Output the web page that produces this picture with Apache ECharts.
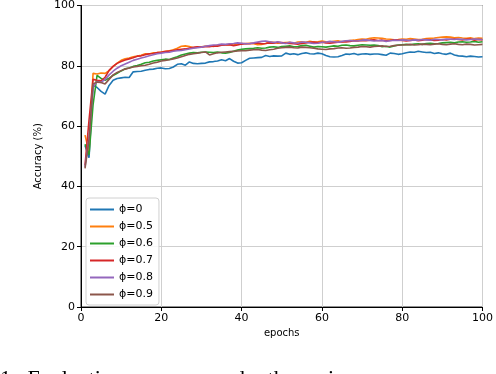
<!DOCTYPE html>
<html>
<head>
<meta charset="utf-8">
<script src="https://cdn.jsdelivr.net/npm/echarts@6/dist/echarts.min.js"></script>
<style>
  html, body { margin: 0; padding: 0; background: #fff; }
  #chart { width: 496px; height: 374px; }
</style>
</head>
<body>
<div id="chart"></div>
<script>
// accuracy per epoch (epochs 1..100)
var seriesNames = ['ϕ=0', 'ϕ=0.5', 'ϕ=0.6', 'ϕ=0.7', 'ϕ=0.8', 'ϕ=0.9'];
var colors = ['#1f77b4', '#ff7f0e', '#2ca02c', '#d62728', '#9467bd', '#8c564b'];

var phi0 = [
  53.6, 49.5, 73.5, 72.8, 71.5, 70.6, 73.5, 75.2, 75.8, 76.0,
  76.2, 76.1, 78.0, 78.1, 78.2, 78.5, 78.8, 78.9, 79.2, 79.3,
  79.0, 79.1, 79.6, 80.5, 80.7, 80.2, 81.3, 80.8, 80.7, 80.8,
  80.9, 81.3, 81.4, 81.6, 82.0, 81.7, 82.4, 81.5, 80.9, 81.0,
  81.8, 82.5, 82.6, 82.7, 82.8, 83.4, 83.1, 83.3, 83.2, 83.3,
  84.2, 83.8, 84.0, 83.7, 84.1, 84.3, 84.0, 83.9, 84.2, 84.0,
  83.4, 83.0, 82.9, 83.0, 83.4, 83.9, 83.8, 84.1, 83.7, 83.9,
  84.0, 83.8, 83.9, 83.9, 83.7, 83.5, 84.2, 84.1, 83.8, 84.0,
  84.3, 84.6, 84.5, 84.8, 84.6, 84.4, 84.5, 84.1, 84.3, 84.0,
  83.8, 84.2, 83.6, 83.3, 83.2, 83.0, 83.2, 83.1, 82.9, 83.0
];
var phi05 = [
  57.0, 51.5, 77.5, 77.3, 77.6, 77.5, 78.4, 79.8, 80.9, 81.8,
  82.3, 82.6, 83.0, 83.2, 83.5, 84.0, 83.9, 84.3, 84.4, 84.6,
  84.8, 85.0, 85.3, 85.8, 86.5, 86.6, 86.4, 86.0, 86.2, 86.3,
  86.5, 86.6, 86.4, 86.8, 86.9, 87.0, 87.1, 86.9, 87.2, 87.4,
  87.3, 87.5, 87.3, 87.0, 87.1, 87.4, 87.9, 87.8, 87.5, 87.6,
  87.7, 87.8, 87.5, 87.9, 88.0, 87.8, 88.1, 87.9, 88.0, 88.2,
  88.0, 87.9, 88.1, 88.3, 88.0, 88.2, 88.4, 88.5, 88.7, 88.9,
  88.8, 89.1, 89.3, 89.2, 89.1, 88.9, 88.8, 88.6, 88.7, 88.9,
  88.8, 89.0, 88.9, 88.7, 88.8, 89.0, 89.1, 89.2, 89.4, 89.5,
  89.6, 89.5, 89.3, 89.4, 89.2, 89.1, 89.3, 89.0, 89.2, 89.1
];
var phi06 = [
  54.0, 50.5, 67.0, 76.8, 75.8, 75.2, 75.9, 76.8, 77.5, 78.3,
  79.0, 79.3, 79.8, 80.1, 80.5, 81.0, 81.2, 81.6, 81.8, 82.0,
  82.2, 82.1, 82.6, 83.0, 83.6, 83.9, 84.2, 84.4, 84.3, 84.5,
  84.6, 84.5, 84.4, 84.6, 84.3, 84.2, 84.4, 84.8, 85.2, 85.5,
  85.6, 85.7, 85.8, 86.0, 85.8, 85.9, 86.2, 86.3, 86.1, 86.4,
  86.5, 86.6, 86.3, 86.4, 86.7, 86.8, 86.5, 86.2, 86.4, 86.3,
  86.2, 86.4, 86.6, 86.5, 86.8, 86.9, 86.7, 86.6, 86.8, 87.0,
  86.9, 86.8, 86.9, 86.7, 86.3, 86.5, 86.2, 86.6, 86.9, 87.0,
  87.1, 87.0, 87.2, 87.3, 87.1, 87.4, 87.5, 87.3, 87.4, 87.6,
  87.7, 87.8, 87.6, 87.9, 88.0, 87.8, 87.9, 88.1, 87.8, 88.0
];
var phi07 = [
  47.0, 62.0, 75.5, 75.2, 75.0, 76.2, 78.5, 79.8, 80.8, 81.4,
  81.9, 82.3, 82.7, 83.2, 83.3, 83.7, 84.0, 84.1, 84.4, 84.5,
  84.7, 84.9, 85.1, 85.3, 85.5, 85.6, 85.9, 86.1, 86.3, 86.2,
  86.4, 86.3, 86.6, 86.5, 86.8, 86.9, 87.0, 86.7, 86.9, 87.2,
  87.4, 87.3, 87.5, 87.6, 87.3, 87.4, 87.6, 87.5, 87.8, 87.7,
  87.5, 87.4, 87.3, 87.2, 87.4, 87.6, 87.8, 87.9, 87.7, 87.8,
  87.6, 87.5, 87.7, 87.8, 88.0, 87.9, 88.1, 88.3, 88.2, 88.4,
  88.3, 88.5, 88.6, 88.4, 88.5, 88.3, 88.4, 88.6, 88.5, 88.4,
  88.2, 88.4, 88.6, 88.3, 88.5, 88.7, 88.6, 88.4, 88.5, 88.7,
  88.6, 88.8, 88.9, 88.7, 88.6, 88.8, 88.9, 88.5, 88.7, 88.6
];
var phi08 = [
  46.5, 56.0, 73.0, 74.8, 74.5, 75.5, 77.0, 78.2, 79.2, 80.0,
  80.6, 81.2, 81.8, 82.2, 82.6, 82.9, 83.3, 83.7, 84.0, 84.2,
  84.4, 84.5, 84.8, 85.0, 85.1, 85.3, 85.6, 85.8, 86.0, 86.2,
  86.5, 86.7, 86.9, 87.0, 87.2, 87.1, 87.3, 87.4, 87.6, 87.5,
  87.3, 87.4, 87.6, 87.9, 88.1, 88.2, 88.0, 87.7, 88.0, 87.6,
  87.4, 87.8, 87.6, 87.5, 87.9, 87.8, 87.6, 87.4, 87.5, 87.8,
  87.9, 88.1, 88.0, 87.8, 88.1, 88.3, 88.4, 88.2, 88.3, 88.5,
  88.6, 88.4, 88.2, 88.3, 88.4, 88.1, 88.3, 88.5, 88.4, 88.6,
  88.5, 88.4, 88.6, 88.5, 88.7, 88.6, 88.5, 88.8, 88.7, 88.6,
  88.9, 88.8, 88.7, 88.9, 88.8, 88.6, 88.7, 88.9, 88.8, 88.7
];
var phi09 = [
  46.0, 55.5, 74.0, 74.6, 74.5, 74.0, 75.5, 77.0, 77.8, 78.4,
  78.9, 79.3, 79.6, 79.8, 80.0, 80.2, 80.5, 80.9, 81.2, 81.6,
  81.8, 82.0, 82.3, 82.6, 83.0, 83.4, 83.8, 84.0, 84.2, 84.4,
  84.6, 83.6, 84.0, 84.3, 84.5, 84.6, 84.7, 84.8, 84.9, 85.0,
  85.0, 85.2, 85.3, 85.4, 85.2, 85.1, 85.3, 85.5, 85.8, 86.0,
  86.1, 86.2, 86.0, 85.9, 86.2, 86.1, 86.0, 85.8, 85.6, 85.5,
  85.4, 85.6, 85.7, 85.9, 86.0, 85.8, 85.9, 86.1, 86.2, 86.4,
  86.3, 86.2, 86.4, 86.5, 86.6, 86.4, 86.5, 86.7, 86.8, 86.9,
  87.0, 87.1, 86.9, 87.0, 87.2, 87.1, 87.0, 87.2, 87.3, 87.1,
  87.0, 87.2, 87.3, 87.1, 87.0, 87.2, 87.1, 86.9, 87.0, 87.1
];
var allValues = [phi0, phi05, phi06, phi07, phi08, phi09];
var xTicks = [0, 20, 40, 60, 80, 100];
var yTicks = [0, 20, 40, 60, 80, 100];

var font = 'DejaVu Sans';

var chart = echarts.init(document.getElementById('chart'));

var series = allValues.map(function (vals, i) {
  return {
    name: seriesNames[i],
    type: 'line',
    data: vals.map(function (v, k) { return [k + 1, v]; }),
    showSymbol: false,
    symbol: 'none',
    animation: false,
    lineStyle: { width: 1.6, color: colors[i] },
    itemStyle: { color: colors[i] },
    z: 3 + i
  };
});

var option = {
  backgroundColor: '#fff',
  animation: false,
  grid: {
    left: 81, right: 12, top: 5, bottom: 67,
    show: true, borderColor: '#222', borderWidth: 1
  },
  xAxis: {
    type: 'value',
    min: xTicks[0], max: xTicks[xTicks.length - 1], interval: 20,
    name: 'epochs', nameLocation: 'middle', nameGap: 21,
    nameTextStyle: { fontFamily: font, fontSize: 10, color: '#000' },
    axisLine: { lineStyle: { color: '#000', width: 1 } },
    axisTick: { show: true, inside: false, length: 4, lineStyle: { color: '#000' } },
    axisLabel: { fontFamily: font, fontSize: 11, color: '#000', margin: 6 },
    splitLine: { show: true, lineStyle: { color: '#cfcfcf', width: 1 } }
  },
  yAxis: {
    type: 'value',
    min: yTicks[0], max: yTicks[yTicks.length - 1], interval: 20,
    name: 'Accuracy (%)', nameLocation: 'middle', nameGap: 36, nameRotate: 90,
    nameTextStyle: { fontFamily: font, fontSize: 10, color: '#000' },
    axisLine: { show: true, lineStyle: { color: '#000', width: 1 } },
    axisTick: { show: true, inside: false, length: 4, lineStyle: { color: '#000' } },
    axisLabel: { fontFamily: font, fontSize: 11, color: '#000', margin: 6 },
    splitLine: { show: true, lineStyle: { color: '#cfcfcf', width: 1 } }
  },
  legend: {
    orient: 'vertical',
    left: 86, top: 198,
    icon: 'rect',
    itemWidth: 24, itemHeight: 2,
    itemGap: 4,
    padding: [5, 6, 4, 4],
    borderColor: '#d0d0d0', borderWidth: 1, borderRadius: 3,
    backgroundColor: 'rgba(255,255,255,0.85)',
    textStyle: { fontFamily: font, fontSize: 11, color: '#000', lineHeight: 13 },
    data: seriesNames
  },
  graphic: [{
    type: 'text',
    left: 0, top: 368,
    style: {
      text: '1.  Evaluation accuracy under the various',
      font: '22px "Liberation Serif", serif',
      fill: '#000'
    }
  }],
  series: series
};

chart.setOption(option);
</script>
</body>
</html>
